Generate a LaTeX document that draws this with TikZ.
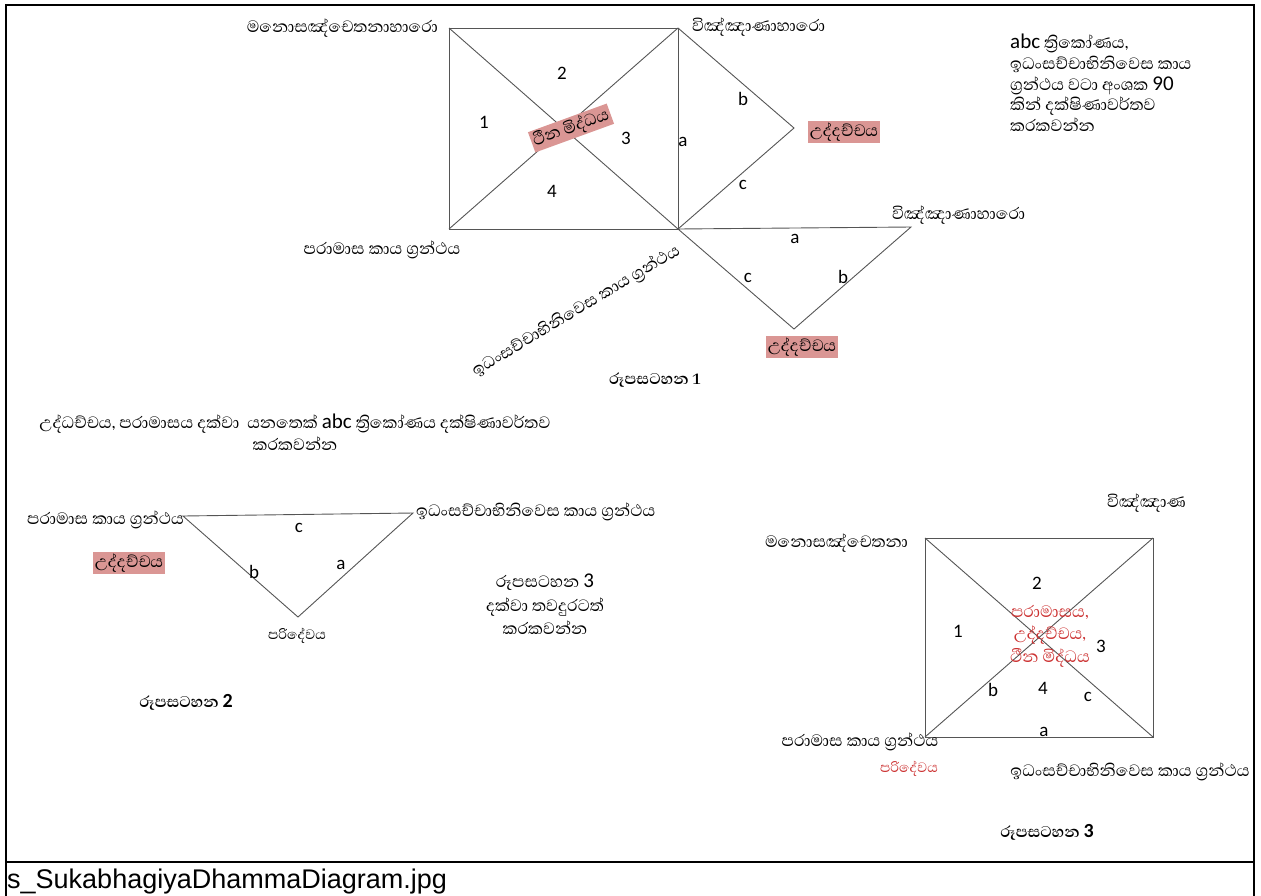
\documentclass[tikz,border=0pt]{standalone}
\usepackage{fontspec}
\newfontfamily\sinhalafont[Script=Sinhala]{Abhaya Libre}
\newfontfamily\carl{Carlito}
\newfontfamily\capfont{Liberation Sans}
\definecolor{hlpink}{RGB}{218,150,148}
\definecolor{redtxt}{RGB}{204,50,50}
\definecolor{edgegray}{RGB}{85,85,85}
\newcommand{\zwj}{^^^^200d}

\begin{document}
\begin{tikzpicture}[x=1pt,y=-1pt,
  si/.style={font=\sinhalafont\fontsize{21}{25}\selectfont, inner sep=0pt, text height=14pt, text depth=4.5pt},
  sismall/.style={font=\sinhalafont\fontsize{17.5}{21}\selectfont, inner sep=0pt, text height=12pt, text depth=3.8pt},
  num/.style={font=\carl\fontsize{19}{22}\selectfont, inner sep=0pt},
  hl/.style={fill=hlpink, inner xsep=2pt, inner ysep=1.5pt},
  figcap/.style={font=\sinhalafont\bfseries\fontsize{20}{24}\selectfont, inner sep=0pt, text height=13pt, text depth=4pt},
  edgeline/.style={draw=edgegray, line width=0.9pt},
  frameline/.style={draw=black, line width=2.2pt}]
\useasboundingbox (0,0) rectangle (1261,895);

% ---------- outer frame and caption strip ----------
\coordinate (fbl) at (6,896);
\coordinate (ftl) at (6,5);
\coordinate (ftr) at (1254,5);
\coordinate (fbr) at (1254,896);
\coordinate (fsl) at (6,862);
\coordinate (fsr) at (1254,862);
\draw[frameline] (fbl) -- (ftl) -- (ftr) -- (fbr);
\draw[frameline] (fsl) -- (fsr);
\node[font=\capfont\fontsize{27}{31}\selectfont, anchor=base west, inner sep=0pt] (fname) at (7,888) {s\_SukabhagiyaDhammaDiagram.jpg};

% ---------- figure 1 ----------
\coordinate (s1tl) at (449,28);
\coordinate (s1tr) at (678,28);
\coordinate (s1br) at (678,229);
\coordinate (s1bl) at (449,229);
\coordinate (t1r) at (794,128);
\coordinate (t2r) at (911,227);
\coordinate (t2b) at (794,329);
\draw[edgeline] (s1tl) -- (s1tr) -- (s1br) -- (s1bl) -- cycle;
\draw[edgeline] (s1tl) -- (s1br);
\draw[edgeline] (s1tr) -- (s1bl);
\draw[edgeline] (s1tr) -- (t1r) -- (s1br);
\draw[edgeline] (s1br) -- (t2r) -- (t2b) -- cycle;

\node[si, anchor=east] (mano1) at (438,28) {මනොසඤ්චෙතනාහාරො};
\node[si, anchor=west] (vinn1) at (692,27) {විඤ්ඤාණාහාරො};
\node[num] (q2) at (562,73) {2};
\node[num] (q1) at (484,122) {1};
\node[num] (q3) at (626,138) {3};
\node[num] (q4) at (552,191) {4};
\node[num] (ea) at (683,142) {a};
\node[si, hl, rotate=20] (thina1) at (571,128) {ථීන මිද්ධය};
\node[num] (eb) at (743,99) {b};
\node[num] (ec) at (743,185) {c};
\node[si, hl] (udd1) at (844,132) {උද්දච්චය};
\node[si, anchor=west] (vinn2) at (892,215) {විඤ්ඤාණාහාරො};
\node[num] (fa) at (795,239) {a};
\node[num] (fc) at (748,278) {c};
\node[num] (fb) at (843,277) {b};
\node[si, hl] (udd2) at (802,347) {උද්දච්චය};
\node[si] (para1) at (382,250) {පරාමාස කාය ග්\zwj රන්ථය};
\node[si, rotate=31] (idam1) at (576,311) {ඉධංසච්චාභිනිවෙස කාය ග්\zwj රන්ථය};
\node[figcap] (cap1) at (655,380) {රූපසටහන 1};

% instruction beside figure 1
\node[si, anchor=west] (note1a) at (1010,44) {{\carl abc} ත්\zwj රිකෝණය,};
\node[si, anchor=west] (note1b) at (1010,65) {ඉධංසච්චාභිනිවෙස කාය};
\node[si, anchor=west] (note1c) at (1010,86) {ග්\zwj රන්ථය වටා අංශක {\carl 90}};
\node[si, anchor=west] (note1d) at (1010,106) {කින් දක්ෂිණාවර්තව};
\node[si, anchor=west] (note1e) at (1010,127) {කරකවන්න};

% ---------- figure 2 ----------
\node[si] (note2a) at (295,424) {උද්ධච්චය, පරාමාසය දක්වා~ යනතෙක් {\carl abc} ත්\zwj රිකෝණය දක්ෂිණාවර්තව};
\node[si] (note2b) at (295,446) {කරකවන්න};

\coordinate (l2) at (183,516);
\coordinate (r2) at (413,513);
\coordinate (b2) at (298,617);
\draw[edgeline] (l2) -- (r2) -- (b2) -- cycle;

\node[si, anchor=east] (para2) at (184,520) {පරාමාස කාය ග්\zwj රන්ථය};
\node[si, anchor=west] (idam2) at (416,512) {ඉධංසච්චාභිනිවෙස කාය ග්\zwj රන්ථය};
\node[num] (gc) at (299,528) {c};
\node[num] (gb) at (254,572) {b};
\node[num] (ga) at (341,565) {a};
\node[si, hl] (udd3) at (129,563) {උද්දච්චය};
\node[sismall] (pari2) at (297,635) {පරිදේවය};
\node[si] (note3a) at (545,583) {රූපසටහන {\carl 3}};
\node[si] (note3b) at (545,607) {දක්වා තවදුරටත්};
\node[si] (note3c) at (545,630) {කරකවන්න};
\node[figcap] (cap2) at (186,703) {රූපසටහන {\carl\bfseries 2}};

% ---------- figure 3 ----------
\coordinate (s3tl) at (925,538);
\coordinate (s3tr) at (1153,538);
\coordinate (s3br) at (1153,737);
\coordinate (s3bl) at (925,737);
\draw[edgeline] (s3tl) -- (s3tr) -- (s3br) -- (s3bl) -- cycle;
\draw[edgeline] (s3tl) -- (s3br);
\draw[edgeline] (s3tr) -- (s3bl);

\node[si, anchor=east] (vinn3) at (1186,503) {විඤ්ඤාණ};
\node[si, anchor=east] (mano3) at (908,543) {මනොසඤ්චෙතනා};
\node[num] (k2) at (1037,583) {2};
\node[num] (k1) at (958,631) {1};
\node[num] (k3) at (1101,646) {3};
\node[num] (k4) at (1043,688) {4};
\node[num] (hb) at (993,690) {b};
\node[num] (hc) at (1088,697) {c};
\node[num] (ha) at (1044,732) {a};
\node[si, text=redtxt] (red3a) at (1050,613) {පරාමාසය,};
\node[si, text=redtxt] (red3b) at (1050,635) {උද්දච්චය,};
\node[si, text=redtxt] (red3c) at (1050,658) {ථීන මිද්ධය};
\node[si] (para3) at (860,742) {පරාමාස කාය ග්\zwj රන්ථය};
\node[sismall, text=redtxt] (pari3) at (909,768) {පරිදේවය};
\node[si] (idam3) at (1130,772) {ඉධංසච්චාභිනිවෙස කාය ග්\zwj රන්ථය};
\node[figcap] (cap3) at (1047,833) {රූපසටහන {\carl\bfseries 3}};
\end{tikzpicture}
\end{document}
